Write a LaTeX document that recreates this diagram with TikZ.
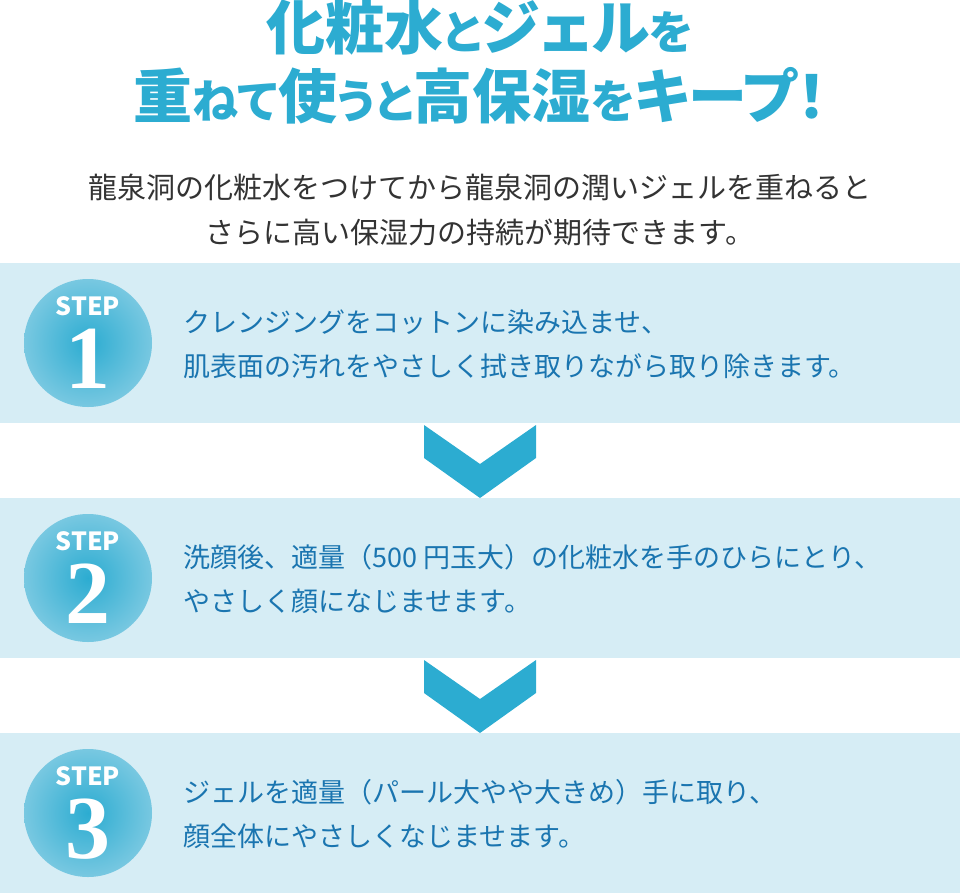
\documentclass[tikz,border=0pt]{standalone}
\usepackage{fontspec}
\setmainfont{Noto Sans CJK JP}
\newfontfamily\titlefont[RawFeature={+palt}]{Noto Sans CJK JP}
\newfontfamily\numfont{Liberation Serif}
\usetikzlibrary{positioning}
\definecolor{skyblue}{RGB}{44,172,209}
\definecolor{skylight}{RGB}{120,200,225}
\definecolor{bandblue}{RGB}{214,237,245}
\definecolor{stepblue}{RGB}{26,117,176}
\definecolor{bodygray}{RGB}{51,51,51}
\newcommand{\kn}[1]{{\fontsize{46}{46}\selectfont #1}}

\begin{document}
\begin{tikzpicture}[x=1pt, y=-1pt,
        band/.style={fill=bandblue, minimum width=960pt, minimum height=160pt, inner sep=0pt},
        ball/.style={circle, minimum size=128pt, inner sep=0pt, inner color=skyblue, outer color=skylight},
        steplabel/.style={text=white, font=\bfseries\fontsize{25}{25}\selectfont},
        stepnum/.style={text=white, font=\numfont\bfseries\fontsize{90}{90}\selectfont},
        steptext/.style={anchor=west, align=left, text=stepblue, font=\fontsize{27}{44}\selectfont},
        chevron/.style={fill=skyblue},
      ]
      \useasboundingbox (0,0) rectangle (960,894);
      % title and lead
      \node[text=skyblue, align=center, font=\titlefont\bfseries\fontsize{59}{69}\selectfont] (title) at (480,62)
        {化粧水\kn{と}ジェル\kn{を}\\ 重\kn{ねて}使\kn{うと}高保湿\kn{を}キープ！};
      \node[text=bodygray, align=center, font=\fontsize{29}{45}\selectfont] (lead) at (480,210)
        {龍泉洞の化粧水をつけてから龍泉洞の潤いジェルを重ねると\\ さらに高い保湿力の持続が期待できます。};
      % steps
      \node[band] (band1) at (480,343) {};
      \node[band] (band2) at (480,578) {};
      \node[band] (band3) at (480,813) {};
      \foreach \i/\y in {1/343, 2/578, 3/813} {
        \node[ball] (ball\i) at (88,\y) {};
        \node[steplabel] (lbl\i) at (88,\y-37) {STEP};
        \node[stepnum] (num\i) at (88,\y+16) {\i};
      }
      \node[steptext] (text1) at (180,344)
        {クレンジングをコットンに染み込ませ、\\ 肌表面の汚れをやさしく拭き取りながら取り除きます。};
      \node[steptext] (text2) at (180,579)
        {洗顔後、適量（500 円玉大）の化粧水を手のひらにとり、\\ やさしく顔になじませます。};
      \node[steptext] (text3) at (180,814)
        {ジェルを適量（パール大やや大きめ）手に取り、\\ 顔全体にやさしくなじませます。};
      % chevrons
      \foreach \t in {425, 660} {
        \fill[chevron] (424,\t) -- (480,\t+39) -- (536,\t) -- (536,\t+33) -- (480,\t+73) -- (424,\t+33) -- cycle;
      }
    \end{tikzpicture}
\end{document}
